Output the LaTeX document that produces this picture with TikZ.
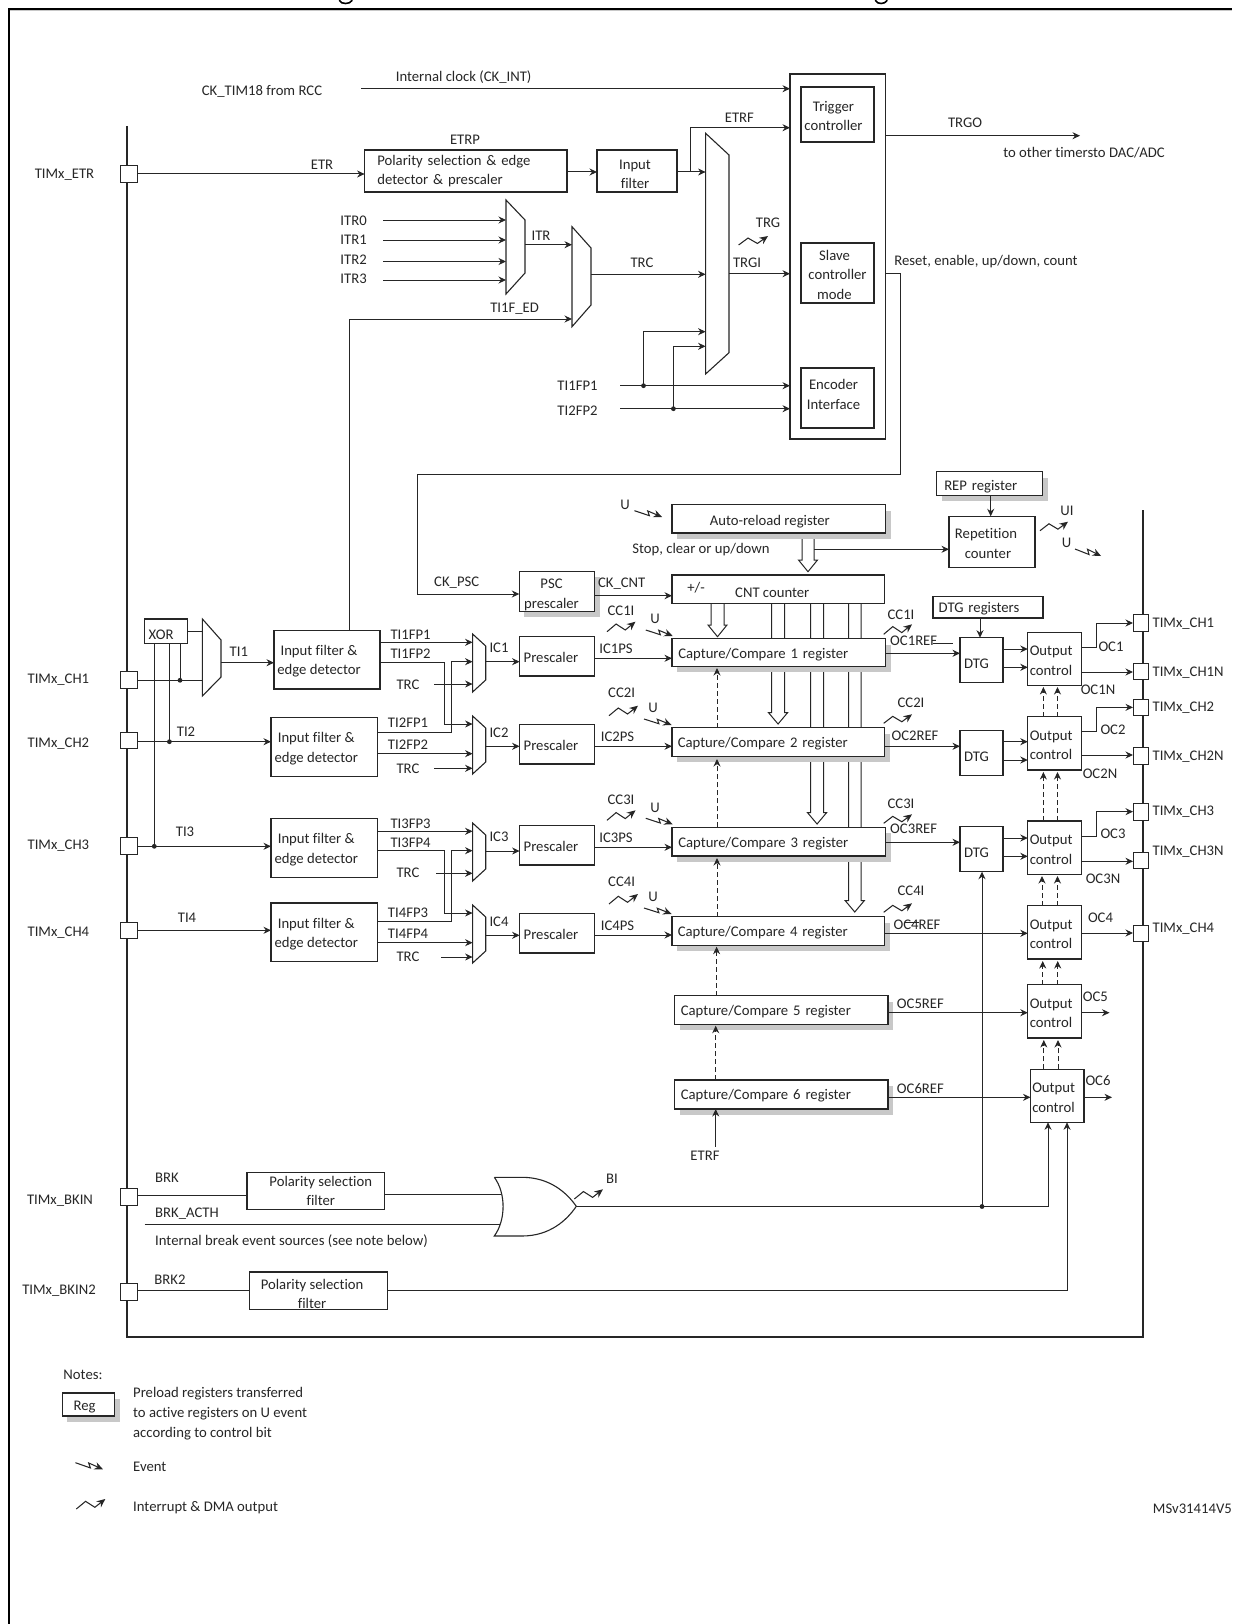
\documentclass[tikz,border=0pt]{standalone}
\usepackage{fontspec}
\setmainfont{Carlito}[Ligatures=NoCommon]
\usetikzlibrary{arrows.meta}
\definecolor{ink}{HTML}{262626}
\definecolor{shadowc}{HTML}{C8C8C8}
\newcounter{lblno}
\tikzset{
  conn/.style={draw=ink,line width=1pt},
  arr/.style={conn,-{Stealth[length=7.5pt,width=7pt]}},
  dasharr/.style={draw=ink,line width=.9pt,dash pattern=on 5pt off 3pt,-{Stealth[length=7.5pt,width=7pt]}},
  boxs/.style={draw=ink,line width=1.1pt,fill=white,inner sep=0pt,outer sep=0pt,align=center,text=ink,
     font=\fontsize{14.7}{19.6}\selectfont},
  ltext/.style={align=left,text width=#1},
  txt/.style={inner sep=0pt,text=ink,font=\fontsize{14.7}{19.6}\selectfont,text height=9.2pt,text depth=0pt},
  multi/.style={inner sep=0pt,text=ink,align=left,font=\fontsize{14.7}{20}\selectfont},
  hole/.style={inner sep=0pt,outer sep=0pt},
  jdot/.style={fill=ink,draw=none},
  squig/.style={draw=ink,line width=1.05pt,-{Stealth[length=8.5pt,width=7.5pt]}},
  busline/.style={draw=ink,line width=2pt,line join=miter},
  hollowb/.style={draw=ink,line width=1pt,fill=white,line join=miter},
}
% [opts]{name}{x1}{y1}{x2}{y2}{text}
\newcommand\nbox[7][]{\node[boxs,minimum width={(#5-#3)*1pt},minimum height={(#6-#4)*1pt},#1] (#2) at ({(#3+#5)/2},{(#4+#6)/2}) {#7};}
\newcommand\tbox[7][]{\nbox[#1]{#2}{#3}{#4}{#5}{#6}{\rule{0pt}{13.5pt}#7}}
\newcommand\ubox[7][]{\nbox[#1]{#2}{#3}{#4}{#5}{#6}{\rule{0pt}{16.5pt}#7}}
\newcommand\shadowof[4]{\fill[shadowc] ({#1+5},{#2+6}) rectangle ({#3+5},{#4+5.5});}
\newcommand\shbox[7][]{\shadowof{#3}{#4}{#5}{#6}\tbox[#1]{#2}{#3}{#4}{#5}{#6}{#7}}
\newcommand\shubox[7][]{\shadowof{#3}{#4}{#5}{#6}\ubox[#1]{#2}{#3}{#4}{#5}{#6}{#7}}
\newcommand\pinbox[5]{\node[boxs,line width=1pt,minimum width={(#4-#2)*1pt},minimum height={(#5-#3)*1pt}] (#1) at ({(#2+#4)/2},{(#3+#5)/2}) {};}
% {name}{x1}{x2}{ytop}{ya}{yb}{ybot}
\newcommand\muxb[7]{\node[hole,minimum width={(#3-#2)*1pt},minimum height={(#7-#4)*1pt}] (#1) at ({(#2+#3)/2},{(#4+#7)/2}) {};
  \draw[conn,line width=1.1pt,fill=white] (#2,#4)--(#3,#5)--(#3,#6)--(#2,#7)--cycle;}
\newcommand\lbl[4][]{\stepcounter{lblno}\node[txt,#1] (t\thelblno) at (#2,#3) {#4};}
\newcommand\hollowbus[5]{\draw[hollowb] (#1,#3)--(#1,#4)--({(#1+#2)/2-9.5},#4)--({(#1+#2)/2},#5)--({(#1+#2)/2+9.5},#4)--(#2,#4)--(#2,#3);}
\newcommand\intr[4]{\draw[squig] (#1,#2)--({#1+.32*(#3-#1)},{#2+.77*(#4-#2)})--({#1+.64*(#3-#1)},{#2+.17*(#4-#2)})--(#3,#4);}
\newcommand\evt[4]{\draw[squig] (#1,#2)--({#1+.54*(#3-#1)},{#2+.79*(#4-#2)})--({#1+.48*(#3-#1)},{#2+.04*(#4-#2)})--(#3,#4);}
\newcommand\jn[1]{\fill[jdot] (#1) circle (2.4pt);}
\begin{document}
\begin{tikzpicture}[x=1pt,y=-1pt]
\useasboundingbox (0,0) rectangle (1232,1624);
% page frame
\draw[draw=shadowc,line width=1pt] (9,10.8)--(1232,10.8);
\draw[draw=black,line width=1.6pt] (9,1624)--(9,9.2)--(1232,9.2);
% clipped title remains
\draw[line width=1.6pt,line cap=round] (339.5,0.5) .. controls (341,4.5) and (350,4.5) .. (352,0.5);
\draw[line width=1.6pt,line cap=round] (875.5,0.5) .. controls (877,4.5) and (885,4.5) .. (887,0.5);
% timer bus
\draw[busline] (126.5,126)--(126.5,1336.5)--(1143,1336.5)--(1143,510);

% ---------- upper right block
\nbox{blk}{790}{74}{885.5}{439}{}
\tbox{trig}{801}{87}{874}{142}{Trigger\hspace*{8pt}\\controller\hspace*{8pt}}
\tbox{slave}{801}{243}{874}{303}{Slave\hspace*{6pt}\\controller\hspace*{6pt}\\mode\hspace*{6pt}}
\nbox{enc}{801}{368}{874}{428}{Encoder\hspace*{8pt}\\Interface\hspace*{8pt}\rule[-7pt]{0pt}{7pt}}
\lbl{262}{91}{CK\_TIM18 from RCC}
\lbl{463.6}{77}{Internal clock (CK\_INT)}
\coordinate (ckint) at (361,88.7);
\draw[arr] (ckint)--(blk.west |- ckint);
\lbl{965}{123}{TRGO}
\lbl{1084}{153}{to other timersto DAC/ADC}
\coordinate (trgoend) at (1080,135.7);
\draw[arr] (blk.east |- trgoend)--(trgoend);

% ---------- ETR path
\pinbox{pinETR}{120}{166}{137.5}{183}
\lbl{64.5}{174}{TIMx\_ETR}
\nbox[ltext=177pt]{pol}{364.6}{150}{567}{192}{Polarity selection \& edge\\detector \& prescaler}
\ubox{inf}{597}{150}{677}{192}{Input\hspace*{4pt}\\filter\hspace*{4pt}}
\draw[arr] (pinETR.east |- 0,174)--(pol.west |- 0,174);
\lbl{322}{165}{ETR}
\lbl{465}{140}{ETRP}
\draw[arr] (pol.east |- 0,172)--(inf.west |- 0,172);
\muxb{mb}{705.6}{729}{133.3}{155}{352.7}{374}
\draw[arr] (inf.east |- 0,172)--(mb.west |- 0,172);
\coordinate (etrf) at (690.6,172);
\draw[arr] (etrf) |- (blk.west |- 0,127.7);
\lbl{739.4}{118}{ETRF}

% ---------- ITR muxes
\muxb{mi}{506}{525}{200}{220}{273}{294}
\muxb{mt}{572}{591}{226.7}{248}{305}{326.7}
\lbl{353.6}{221}{ITR0}\lbl{353.6}{240}{ITR1}\lbl{353.6}{260}{ITR2}\lbl{353.6}{279}{ITR3}
\coordinate (i0) at (383,220);\coordinate (i1) at (383,240);\coordinate (i2) at (383,261.5);\coordinate (i3) at (383,280);
\draw[arr] (i0)--(mi.west |- i0);\draw[arr] (i1)--(mi.west |- i1);\draw[arr] (i2)--(mi.west |- i2);\draw[arr] (i3)--(mi.west |- i3);
\draw[arr] (mi.east |- 0,244.7)--(mt.west |- 0,244.7);
\lbl{541}{236}{ITR}
\draw[arr] (mt.east |- 0,274.3)--(mb.west |- 0,274.3);
\lbl{642}{263}{TRC}
\draw[arr] (mb.east |- 0,273.7)--(blk.west |- 0,273.7);
\lbl{747}{263}{TRGI}
\lbl{768}{223}{TRG}
\intr{738.6}{245}{768}{236}
\lbl{514.6}{308}{TI1F\_ED}
% encoder inputs
\coordinate (tp1) at (620,385.7);\coordinate (tp2) at (620,408.7);
\coordinate (d1) at (643.5,385.7);\coordinate (d2) at (673.4,408.7);
\draw[arr] (tp1)--(blk.west |- tp1);
\draw[arr] (tp2)--(blk.west |- tp2);
\draw[arr] (d1) |- (mb.west |- 0,331.7);
\draw[arr] (d2) |- (mb.west |- 0,346.3);
\jn{d1}\jn{d2}
\lbl{577.5}{385.7}{TI1FP1}
\lbl{577.5}{411}{TI2FP2}
\lbl{986}{261}{Reset, enable, up/down, count}

% ---------- time base
\shubox{psc}{519.3}{571.3}{594.7}{611.3}{PSC\hspace*{11pt}\\prescaler\hspace*{11pt}}
\lbl{456.7}{581.7}{CK\_PSC}
\draw[arr] (blk.east |- 0,273.7)--(900.4,273.7)--(900.4,474.7)--(417,474.7)--(417,594)--(psc.west |- 0,594);
\lbl{621.7}{582.7}{CK\_CNT}
\lbl{625}{504.7}{U}
\evt{634.5}{510.7}{662}{517}
\lbl{701}{548.7}{Stop, clear or up/down}
% buses (behind the registers)
\hollowbus{802}{814}{530}{560}{571.7}
\hollowbus{711}{724}{600}{625}{636.7}
\hollowbus{771.6}{784.5}{600}{712.7}{724}
\hollowbus{810.6}{823.5}{600}{812.7}{824}
\hollowbus{848.5}{861}{600}{900.7}{912}
\shubox{arreg}{672}{504.7}{885.6}{533}{Auto-reload register\hspace*{18pt}}
\ubox{cnt}{672}{575}{884.5}{603.7}{CNT counter\hspace*{12pt}}
\lbl{696}{588}{+/-}
\draw[arr] (psc.east |- 0,595.7)--(cnt.west |- 0,595.7);
\shubox[ltext=91pt]{repreg}{936.8}{471.7}{1042.7}{495.3}{REP register}
\tbox{repc}{949}{516.3}{1035}{567.3}{Repetition\hspace*{12pt}\\counter\hspace*{8pt}}
\draw[arr] (repreg.south -| 990.7,0)--(repc.north -| 990.7,0);
\coordinate (stopo) at (814,549.3);
\draw[arr] (stopo)--(repc.west |- stopo);
\lbl{1067}{510.7}{UI}
\intr{1040}{530.7}{1068}{521.7}
\lbl{1066.5}{543}{U}
\evt{1075}{549}{1101}{556}
\tbox[ltext=98.6pt]{dtgr}{933}{596.3}{1043}{618}{DTG registers}

% ---------- capture/compare registers
\shbox[ltext=201pt]{cc1}{672}{638.7}{885.6}{666.7}{Capture/Compare 1 register}
\shbox[ltext=201pt]{cc2}{672}{727.7}{884.5}{756.3}{Capture/Compare 2 register}
\shbox[ltext=201pt]{cc3}{672}{827.3}{885.6}{856}{Capture/Compare 3 register}
\shbox[ltext=201pt]{cc4}{672}{916.7}{884.5}{945.3}{Capture/Compare 4 register}
\shbox[ltext=201pt]{cc5}{674.7}{995.7}{888}{1024.3}{Capture/Compare 5 register}
\shbox[ltext=201pt]{cc6}{674.7}{1080}{888}{1109}{Capture/Compare 6 register}
\draw[dasharr] (cc2.north -| 717,0)--(717,668);
\draw[dasharr] (cc3.north -| 717,0)--(717,759);
\draw[dasharr] (cc4.north -| 717,0)--(717,858);
\draw[dasharr] (cc5.north -| 716.6,0)--(716.6,946.7);
\draw[dasharr] (cc6.north -| 715.7,0)--(715.7,1025.7);
\coordinate (etrfb) at (715.7,1146.7);
\draw[arr] (etrfb)--(cc6.south -| etrfb);
\lbl{705}{1155.7}{ETRF}

% ---------- pins on the left
\pinbox{pCH1}{120.4}{671.7}{137.5}{688}
\pinbox{pCH2}{120.4}{732}{137.5}{748.7}
\pinbox{pCH3}{120.4}{837}{137.5}{854}
\pinbox{pCH4}{120.4}{922}{137.5}{938.7}
\pinbox{pBK}{120.4}{1188.3}{137.5}{1205}
\pinbox{pBK2}{120.4}{1283.3}{137.5}{1300}
\lbl{58.4}{679}{TIMx\_CH1}\lbl{58.4}{743}{TIMx\_CH2}\lbl{58.4}{844.7}{TIMx\_CH3}\lbl{58.4}{932}{TIMx\_CH4}
\lbl{60}{1199.7}{TIMx\_BKIN}\lbl{59}{1290.3}{TIMx\_BKIN2}

% ---------- XOR and input stage
\ubox{xorb}{144.5}{619}{187.8}{643.7}{XOR\hspace*{10pt}}
\muxb{mx}{202.4}{221}{619}{640}{677}{696}
\draw[conn] (xorb.east |- 0,631)--(mx.west |- 0,631);
\draw[conn] (pCH1.east |- 0,680.3)--(mx.west |- 0,680.3);
\tbox{ifa}{274}{630.3}{380}{689}{Input filter \&\hspace*{16pt}\\edge detector\hspace*{16pt}}
\tbox{ifb}{271}{717.3}{377.5}{776.3}{Input filter \&\hspace*{16pt}\\edge detector\hspace*{16pt}}
\tbox{ifc}{271}{818.3}{377.5}{877.3}{Input filter \&\hspace*{16pt}\\edge detector\hspace*{16pt}}
\tbox{ifd}{271}{903}{377.5}{961.7}{Input filter \&\hspace*{16pt}\\edge detector\hspace*{16pt}}
\draw[arr] (ifa.north -| 349.4,0) |- (mt.west |- 0,319);
\draw[arr] (mx.east |- 0,662.7)--(ifa.west |- 0,662.7);
\lbl{238.8}{652}{TI1}
\draw[arr] (pCH2.east |- 0,741.7)--(ifb.west |- 0,741.7);
\draw[arr] (pCH3.east |- 0,846.3)--(ifc.west |- 0,846.3);
\draw[arr] (pCH4.east |- 0,930.3)--(ifd.west |- 0,930.3);
\lbl{186}{732}{TI2}\lbl{185}{831.7}{TI3}\lbl{187}{918}{TI4}
\coordinate (j1) at (180,680.3);\coordinate (j2) at (169.4,741.7);\coordinate (j3) at (154.3,846.3);
\draw[conn] (xorb.south -| j1)--(j1);\draw[conn] (xorb.south -| j2)--(j2);\draw[conn] (xorb.south -| j3)--(j3);
\jn{j1}\jn{j2}\jn{j3}

% ---------- input muxes
\muxb{m1}{472.6}{485.7}{634}{646}{680}{692}
\muxb{m2}{472.6}{485.7}{716}{728}{762}{774}
\muxb{m3}{472.6}{485.7}{823}{835}{869}{881}
\muxb{m4}{472.6}{485.7}{905}{917}{951}{963}
\draw[arr] (ifa.east |- 0,642.3)--(m1.west |- 0,642.3);
\draw[arr] (ifa.east |- 0,662)--(444,662)--(444,724)--(m2.west |- 0,724);
\draw[arr] (ifb.east |- 0,732.7)--(451.8,732.7)--(451.8,661.7)--(m1.west |- 0,661.7);
\draw[arr] (ifb.east |- 0,753.7)--(m2.west |- 0,753.7);
\draw[arr] (ifc.east |- 0,831.3)--(m3.west |- 0,831.3);
\draw[arr] (ifc.east |- 0,850.7)--(444,850.7)--(444,913)--(m4.west |- 0,913);
\draw[arr] (ifd.east |- 0,921.7)--(451.8,921.7)--(451.8,850.7)--(m3.west |- 0,850.7);
\draw[arr] (ifd.east |- 0,942.7)--(m4.west |- 0,942.7);
\coordinate (tr1) at (434,684);\coordinate (tr2) at (434,768.3);\coordinate (tr3) at (436,873.3);\coordinate (tr4) at (441,957);
\draw[arr] (tr1)--(m1.west |- tr1);\draw[arr] (tr2)--(m2.west |- tr2);\draw[arr] (tr3)--(m3.west |- tr3);\draw[arr] (tr4)--(m4.west |- tr4);
\lbl{410.6}{635}{TI1FP1}\lbl{410.6}{654}{TI1FP2}\lbl{408}{684.7}{TRC}
\lbl{408}{723}{TI2FP1}\lbl{408}{745}{TI2FP2}\lbl{408}{768.7}{TRC}
\lbl{410.6}{823.7}{TI3FP3}\lbl{410.6}{842.7}{TI3FP4}\lbl{408}{873}{TRC}
\lbl{408}{912.7}{TI4FP3}\lbl{408}{934}{TI4FP4}\lbl{408}{957}{TRC}
\lbl{499}{648}{IC1}\lbl{499}{733}{IC2}\lbl{499}{836.7}{IC3}\lbl{499}{921.7}{IC4}
\tbox[ltext=67pt]{pr1}{519.6}{636.3}{594.7}{676}{Prescaler}
\tbox[ltext=67pt]{pr2}{519.6}{724.3}{594.7}{764}{Prescaler}
\tbox[ltext=67pt]{pr3}{519.6}{825.3}{594.7}{865}{Prescaler}
\tbox[ltext=67pt]{pr4}{519.6}{913.3}{594.7}{953}{Prescaler}
\draw[arr] (m1.east |- 0,661.7)--(pr1.west |- 0,661.7);
\draw[arr] (m2.east |- 0,746.3)--(pr2.west |- 0,746.3);
\draw[arr] (m3.east |- 0,851)--(pr3.west |- 0,851);
\draw[arr] (m4.east |- 0,935.3)--(pr4.west |- 0,935.3);
\draw[arr] (pr1.east |- 0,658.3)--(cc1.west |- 0,658.3);
\draw[arr] (pr2.east |- 0,746.3)--(cc2.west |- 0,746.3);
\draw[arr] (pr3.east |- 0,847.3)--(cc3.west |- 0,847.3);
\draw[arr] (pr4.east |- 0,935)--(cc4.west |- 0,935);
\lbl{616}{649}{IC1PS}\lbl{617.5}{736.7}{IC2PS}\lbl{616}{837.7}{IC3PS}\lbl{617.5}{926}{IC4PS}
% interrupt / event marks on the left of the registers
\lbl{621}{611}{CC1I}\intr{607}{631.7}{635.5}{621.7}
\lbl{655}{619}{U}\evt{645.8}{630}{672.7}{636}
\lbl{621.6}{692.7}{CC2I}\intr{609}{715.7}{638}{705.7}
\lbl{653}{708}{U}\evt{644}{719}{671.6}{725}
\lbl{621}{800}{CC3I}\intr{607}{820.3}{635.5}{810.3}
\lbl{655}{808.3}{U}\evt{645.8}{818.3}{672.7}{824.3}
\lbl{621.6}{882}{CC4I}\intr{609}{904}{638}{894}
\lbl{653}{897.3}{U}\evt{644}{908}{671.6}{914}

% ---------- output stage
\ubox[ltext=35pt]{dtg1}{960}{637.7}{1003}{682.7}{DTG}
\ubox[ltext=35pt]{dtg2}{960}{730.3}{1003}{775.3}{DTG}
\ubox[ltext=35pt]{dtg3}{960}{826.7}{1003}{871.7}{DTG}
\tbox[ltext=50pt]{oc1}{1027.8}{632.3}{1081.7}{685.7}{Output\\control}
\tbox[ltext=50pt]{oc2}{1027.8}{716.7}{1081.7}{770}{Output\\control}
\tbox[ltext=50pt]{oc3}{1027.8}{821}{1081.7}{874.3}{Output\\control}
\tbox[ltext=50pt]{oc4}{1027.8}{905.7}{1081.7}{959}{Output\\control}
\tbox[ltext=50pt]{oc5}{1027.8}{984.7}{1081.7}{1038}{Output\\control}
\tbox[ltext=50pt]{oc6}{1030.5}{1069.3}{1084}{1122.3}{Output\\control}
\draw[arr] (dtgr.south -| 980,0)--(dtg1.north -| 980,0);
\draw[arr] (cc1.east |- 0,653.3)--(dtg1.west |- 0,653.3);
\draw[arr] (cc2.east |- 0,746.3)--(dtg2.west |- 0,746.3);
\draw[arr] (cc3.east |- 0,842.3)--(dtg3.west |- 0,842.3);
\draw[arr] (cc4.east |- 0,933.3)--(oc4.west |- 0,933.3);
\draw[arr] (cc5.east |- 0,1012.7)--(oc5.west |- 0,1012.7);
\draw[arr] (cc6.east |- 0,1097.3)--(oc6.west |- 0,1097.3);
\draw[arr] (dtg1.east |- 0,649)--(oc1.west |- 0,649);
\draw[arr] (dtg1.east |- 0,667.3)--(oc1.west |- 0,667.3);
\draw[arr] (dtg2.east |- 0,741.7)--(oc2.west |- 0,741.7);
\draw[arr] (dtg2.east |- 0,760)--(oc2.west |- 0,760);
\draw[arr] (dtg3.east |- 0,838)--(oc3.west |- 0,838);
\draw[arr] (dtg3.east |- 0,856.3)--(oc3.west |- 0,856.3);
% dashed between output controls
\draw[dasharr] (oc2.north -| 1043.4,0)--(1043.4,687);
\draw[dasharr] (oc2.north -| 1057.5,0)--(1057.5,687);
\draw[dasharr] (oc3.north -| 1043.4,0)--(1043.4,772);
\draw[dasharr] (oc3.north -| 1057.5,0)--(1057.5,772);
\draw[dasharr] (oc4.north -| 1042,0)--(1042,876);
\draw[dasharr] (oc4.north -| 1057.5,0)--(1057.5,876);
\draw[dasharr] (oc5.north -| 1042.7,0)--(1042.7,961);
\draw[dasharr] (oc5.north -| 1057.7,0)--(1057.7,961);
\draw[dasharr] (oc6.north -| 1043.8,0)--(1043.8,1040);
\draw[dasharr] (oc6.north -| 1058,0)--(1058,1040);
\lbl{901}{615}{CC1I}\intr{883.7}{634.3}{912}{624.3}
\lbl{913.7}{641}{OC1REF}
\coordinate (st1) at (932.5,643.7);\coordinate (st2) at (953,643.7);\draw[conn] (st1)--(st2);
\lbl{911}{703}{CC2I}\intr{883.7}{723.3}{912}{714.3}
\lbl{915}{736}{OC2REF}
\lbl{901}{804.3}{CC3I}\intr{883.7}{823.3}{912}{814.3}
\lbl{913.7}{829.3}{OC3REF}
\lbl{911}{891}{CC4I}\intr{883.7}{912.3}{912}{903.3}
\lbl{917}{925.3}{OC4REF}
\coordinate (st3) at (905,922);\coordinate (st4) at (919,922);\draw[conn] (st3)--(st4);
\lbl{920.4}{1004}{OC5REF}
\lbl{920.4}{1088.7}{OC6REF}
% right pins
\pinbox{pR1}{1133}{614.7}{1148}{631.3}
\pinbox{pR1N}{1133}{663.3}{1148}{679.3}
\pinbox{pR2}{1133}{699}{1148}{715.7}
\pinbox{pR2N}{1133}{747.3}{1148}{764}
\pinbox{pR3}{1133}{803.3}{1148}{820}
\pinbox{pR3N}{1133}{852}{1148}{868.3}
\pinbox{pR4}{1133}{925}{1148}{941.3}
\lbl[anchor=west]{1152.4}{623}{TIMx\_CH1}
\lbl[anchor=west]{1152.4}{672}{TIMx\_CH1N}
\lbl[anchor=west]{1152.4}{707}{TIMx\_CH2}
\lbl[anchor=west]{1152.4}{755.7}{TIMx\_CH2N}
\lbl[anchor=west]{1152.4}{811}{TIMx\_CH3}
\lbl[anchor=west]{1152.4}{850.7}{TIMx\_CH3N}
\lbl[anchor=west]{1152.4}{927.7}{TIMx\_CH4}
\draw[arr] (oc1.east |- 0,647.3)--(1096.6,647.3) |- (pR1.west);
\draw[arr] (oc1.east |- 0,672)--(pR1N.west |- 0,672);
\draw[arr] (oc2.east |- 0,731.7)--(1096.6,731.7) |- (pR2.west);
\draw[arr] (oc2.east |- 0,755)--(pR2N.west |- 0,755);
\draw[arr] (oc3.east |- 0,836.3)--(1096.6,836.3) |- (pR3.west);
\draw[arr] (oc3.east |- 0,861.3)--(pR3N.west |- 0,861.3);
\draw[arr] (oc4.east |- 0,933)--(pR4.west |- 0,933);
\coordinate (o5) at (1109.5,1012.7);\coordinate (o6) at (1112,1097.3);
\draw[arr] (oc5.east |- o5)--(o5);
\draw[arr] (oc6.east |- o6)--(o6);
\lbl{1111}{647}{OC1}\lbl{1098}{690}{OC1N}
\lbl{1113}{730}{OC2}\lbl{1100}{774}{OC2N}
\lbl{1113}{833.7}{OC3}\lbl{1103}{879.3}{OC3N}
\lbl{1100.5}{917.7}{OC4}\lbl{1095.4}{997}{OC5}\lbl{1098}{1081}{OC6}

% ---------- break inputs
\nbox{polb}{247}{1172.3}{384.5}{1209.7}{\hspace*{10pt}Polarity selection\\\hspace*{10pt}filter}
\ubox{polc}{249.4}{1272}{387.8}{1309.7}{Polarity selection\hspace*{13pt}\\filter\hspace*{13pt}}
\node[hole,minimum width=82pt,minimum height=58.7pt] (orgate) at (535.3,1206.7) {};
\draw[conn,line width=1.1pt,fill=white] (494.3,1177.3)--(522,1177.3) .. controls (550,1177.3) and (567,1193) .. (576.3,1206.3) .. controls (567,1220) and (550,1236) .. (522,1236)--(494.3,1236) .. controls (506,1220) and (506,1193) .. (494.3,1177.3);
\draw[conn] (pBK.east |- 0,1195.7)--(polb.west |- 0,1195.7);
\draw[conn] (polb.east |- 0,1194.3)--(501,1194.3);
\coordinate (acth) at (144.5,1224.7);
\draw[conn] (acth)--(499.5,1224.7);
\draw[conn] (pBK2.east |- 0,1290.7)--(polc.west |- 0,1290.7);
\coordinate (bj) at (982,1206.5);
\draw[arr] (orgate.east |- bj)--(1048,1206.5)--(oc6.south -| 1048,0);
\draw[arr] (bj)--(dtg3.south -| bj);
\jn{bj}
\draw[arr] (polc.east |- 0,1290)--(1067,1290)--(oc6.south -| 1067,0);
\lbl{167}{1178}{BRK}\lbl{187}{1213.3}{BRK\_ACTH}\lbl{170}{1280}{BRK2}
\lbl[anchor=west]{155}{1240.7}{Internal break event sources (see note below)}
\lbl{612}{1178.7}{BI}
\intr{574.3}{1199}{602.9}{1189.3}

% ---------- notes
\lbl{83}{1375}{Notes:}
\shbox{regn}{62.4}{1393}{114.7}{1416}{Reg\hspace*{8pt}}
\node[multi,anchor=west] (notetxt) at (133,1414) {Preload registers transferred\\to active registers on U event\\according to control bit};
\evt{75.5}{1462.7}{103}{1469.3}
\lbl[anchor=west]{133}{1467}{Event}
\intr{76.3}{1509}{105.3}{1499}
\lbl[anchor=west]{133}{1507}{Interrupt \& DMA output}
\lbl[anchor=east]{1232}{1508.7}{MSv31414V5}
\end{tikzpicture}
\end{document}
